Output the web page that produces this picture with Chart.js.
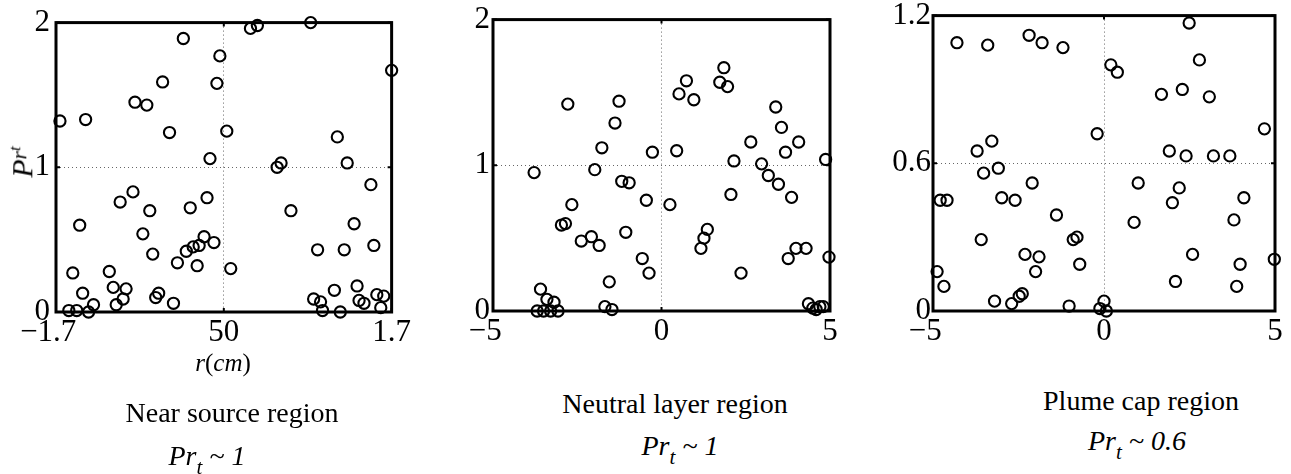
<!DOCTYPE html>
<html>
<head>
<meta charset="utf-8">
<script src="https://cdn.jsdelivr.net/npm/chart.js@4/dist/chart.umd.min.js"></script>
<style>
  html, body { margin: 0; padding: 0; background: #fff; }
  body { width: 1291px; height: 474px; position: relative; overflow: hidden;
         font-family: "Liberation Serif", "Times New Roman", serif; color: #000; }
  .panel { position: absolute; }
  .txt { position: absolute; white-space: nowrap; transform: translateX(-50%); }
  .cap { font-size: 28px; line-height: 28px; }
  .pr  { font-size: 28px; line-height: 28px; font-style: italic; }
  .pr sub { font-size: 0.75em; vertical-align: -0.45em; line-height: 0; }
</style>
</head>
<body>

<div class="panel" id="p1"><canvas id="c1"></canvas></div>
<div class="panel" id="p2"><canvas id="c2"></canvas></div>
<div class="panel" id="p3"><canvas id="c3"></canvas></div>

<!-- y label, first panel -->
<div style="position:absolute; left:19px; top:162px; transform:translate(-50%,-50%) rotate(-90deg); font-size:30px; line-height:30px; font-style:italic; white-space:nowrap;">P<span style="font-size:0.72em; vertical-align:0.3em;">r</span><span style="font-size:0.55em; vertical-align:0.75em;">t</span></div>

<div class="txt" style="left:223px; top:350px; font-size:25px; line-height:25px;"><i>r</i>(<i>cm</i>)</div>

<div class="txt cap" style="left:232px; top:399px;">Near source region</div>
<div class="txt cap" style="left:675px; top:390px;">Neutral layer region</div>
<div class="txt cap" style="left:1141px; top:387px;">Plume cap region</div>

<div class="txt pr" style="left:207px; top:442px;">Pr<sub>t</sub> ~ 1</div>
<div class="txt pr" style="left:680px; top:432px;">Pr<sub>t</sub> ~ 1</div>
<div class="txt pr" style="left:1137px; top:427px;">Pr<sub>t</sub> ~ 0.6</div>

<script>
// ---- data ----
// near source region, r scaled to -1.7 .. 1.7 (middle tick labelled 50)
const nearX = [-1.66, -1.40, -0.41, -0.04, -0.62, -0.07, -0.90, -0.78, -0.55, 0.03,
               -0.14, 0.27, 0.34, -0.92, -1.05, -0.75, -0.34, -0.17, -1.46, -0.82,
               -0.72, -0.38, -0.31, -0.25, -0.20, -0.10, -0.47, -0.27, 0.07, -1.53,
               -1.16, -1.43, -1.12, -0.99, -1.02, -1.09, -0.66, -0.69, -0.51, -1.32,
               -1.37, -1.57, -1.49,
               0.88, 1.70, 1.15, 1.25, 0.54, 0.58, 1.49, 0.68, 1.32, 0.95,
               1.22, 1.52, 1.12, 1.35, 0.91, 0.98, 1.37, 1.42, 1.55, 1.62,
               1.59, 1.00, 1.18];
const nearY = [1.32, 1.33, 1.89, 1.77, 1.59, 1.58, 1.45, 1.43, 1.24, 1.25,
               1.06, 1.96, 1.98, 0.83, 0.76, 0.70, 0.72, 0.79, 0.60, 0.54,
               0.40, 0.42, 0.45, 0.46, 0.52, 0.48, 0.34, 0.32, 0.30, 0.27,
               0.28, 0.13, 0.17, 0.16, 0.09, 0.05, 0.13, 0.10, 0.06, 0.05,
               0.00, 0.01, 0.01,
               2.00, 1.67, 1.21, 1.03, 1.00, 1.03, 0.88, 0.70, 0.61, 0.43,
               0.43, 0.46, 0.15, 0.18, 0.09, 0.07, 0.08, 0.06, 0.12, 0.11,
               0.03, 0.01, 0.00];

// neutral layer region
const neutralX = [-3.78, -2.78, -2.66, -2.97, -2.85, -2.38, -2.08, -1.85, -1.98, -1.77,
                  -1.26, -1.38, -1.18, -0.96, -1.06, -0.45, -0.27, -0.57, -0.37, -1.55,
                  -1.68, -1.47, -3.59, -3.40, -3.19, -3.69, -3.50, -3.29, -3.07,
                  0.25, 0.45, 0.52, 0.74, 0.96, 1.73, 1.85, 1.96, 2.15, 2.06,
                  1.17, 1.26, 1.36, 2.36, 2.65, 2.97, 3.17, 3.39, 3.56, 3.47,
                  3.68, 4.07, 3.86, 3.99, 4.29, 3.76, 4.87, 4.97,
                  4.36, 4.49, 4.59, 4.70, 4.80];
const neutralY = [0.95, 1.42, 0.73, 0.59, 0.60, 0.48, 0.51, 0.45, 0.97, 1.12,
                  1.44, 1.29, 0.89, 0.88, 0.54, 0.76, 1.09, 0.36, 0.26, 0.20,
                  0.03, 0.01, 0.15, 0.08, 0.06, 0.00, 0.00, 0.00, 0.00,
                  0.73, 1.10, 1.49, 1.58, 1.45, 1.57, 1.67, 1.54, 1.03, 0.80,
                  0.43, 0.50, 0.56, 0.26, 1.16, 1.01, 0.93, 1.40, 1.26, 0.87,
                  1.09, 1.16, 0.78, 0.43, 0.43, 0.36, 1.04, 0.37,
                  0.05, 0.02, 0.01, 0.03, 0.03];

// plume cap region
const plumeX = [-4.30, -3.40, -2.19, -1.81, -1.20, 2.49, 2.79, 0.20, 0.39, 1.68,
                2.29, 3.08, 4.69, -0.20, -3.28, -3.71, -3.52, -3.09, 1.91, 2.40,
                3.20, 3.68, -2.10, 1.00, 2.20, 2.00, 4.09, -4.79, -4.59, -2.99,
                -2.60, -1.39, 0.88, 3.80, -3.59, -0.90, -0.79, -2.31, -1.90, 2.59,
                4.98, -4.88, -2.00, -0.71, 3.98, -4.68, 2.09, 3.88, -2.48, -2.39,
                -3.20, -2.70, -1.02, 0.00, -0.12, 0.07];
const plumeY = [1.09, 1.08, 1.12, 1.09, 1.07, 1.17, 1.02, 1.00, 0.97, 0.88,
                0.90, 0.87, 0.74, 0.72, 0.69, 0.65, 0.56, 0.58, 0.65, 0.63,
                0.63, 0.63, 0.52, 0.52, 0.50, 0.44, 0.46, 0.45, 0.45, 0.46,
                0.45, 0.39, 0.36, 0.37, 0.29, 0.29, 0.30, 0.23, 0.22, 0.23,
                0.21, 0.16, 0.16, 0.19, 0.19, 0.10, 0.12, 0.10, 0.06, 0.07,
                0.04, 0.03, 0.02, 0.04, 0.01, 0.00];

// ticks (trailing spaces nudge the negative labels left, as in the original)
const xTicks1 = [-1.7, 0, 1.7];
const xTickLabels1 = ['\u22121.7  ', '50', '1.7'];
const yTicks1 = [0, 1, 2];
const xTicks2 = [-5, 0, 5];
const xTickLabels2 = ['\u22125  ', '0', '5'];
const yTicks2 = [0, 1, 2];
const xTicks3 = [-5, 0, 5];
const xTickLabels3 = ['\u22125  ', '0', '5'];
const yTicks3 = [0, 0.6, 1.2];
const yTickLabels3 = ['0', '0.6', '1.2'];

const FONT = { family: '"Liberation Serif", "Times New Roman", serif', size: 31 };

// box round the plot area, with small inward ticks
const boxPlugin = {
  id: 'box',
  afterDatasetsDraw(chart) {
    const a = chart.chartArea, ctx = chart.ctx;
    const sx = chart.scales.x, sy = chart.scales.y;
    ctx.save();
    ctx.strokeStyle = '#000';
    ctx.lineWidth = 3;
    ctx.strokeRect(a.left, a.top, a.right - a.left, a.bottom - a.top);
    ctx.lineWidth = 2;
    ctx.beginPath();
    sx.ticks.forEach(t => {
      const px = sx.getPixelForValue(t.value);
      ctx.moveTo(px, a.bottom); ctx.lineTo(px, a.bottom - 4);
      ctx.moveTo(px, a.top); ctx.lineTo(px, a.top + 4);
    });
    sy.ticks.forEach(t => {
      const py = sy.getPixelForValue(t.value);
      ctx.moveTo(a.left, py); ctx.lineTo(a.left + 4, py);
      ctx.moveTo(a.right, py); ctx.lineTo(a.right - 4, py);
    });
    ctx.stroke();
    ctx.restore();
  }
};

function pairs(xs, ys) { return xs.map((x, i) => ({ x: x, y: ys[i] })); }

function makePanel(opt) {
  const yW = 60, padT = 20, padR = 16, xH = 44;
  const box = document.getElementById(opt.div);
  const w = yW + (opt.right - opt.left) + padR;
  const h = padT + (opt.bottom - opt.top) + xH;
  box.style.left = (opt.left - yW) + 'px';
  box.style.top = (opt.top - padT) + 'px';
  box.style.width = w + 'px';
  box.style.height = h + 'px';

  new Chart(document.getElementById(opt.canvas), {
    type: 'scatter',
    data: {
      datasets: [{
        data: pairs(opt.xs, opt.ys),
        pointStyle: 'circle',
        pointRadius: 5.6,
        pointBorderWidth: 2.1,
        pointBorderColor: '#000',
        pointBackgroundColor: 'rgba(0,0,0,0)',
        clip: false
      }]
    },
    options: {
      responsive: true,
      maintainAspectRatio: false,
      animation: false,
      events: [],
      layout: { padding: { top: padT, right: padR, left: 0, bottom: 0 } },
      plugins: { legend: { display: false }, tooltip: { enabled: false } },
      scales: {
        x: {
          type: 'linear',
          min: opt.xTicks[0], max: opt.xTicks[opt.xTicks.length - 1],
          afterBuildTicks: s => { s.ticks = opt.xTicks.map(v => ({ value: v })); },
          afterFit: s => { s.height = xH; },
          grid: { color: '#666', lineWidth: 1, drawTicks: false },
          border: { display: false, dash: [1, 3] },
          ticks: {
            color: '#000', font: FONT, padding: 2, maxRotation: 0, autoSkip: false,
            callback: (v, i) => opt.xLabels[i]
          }
        },
        y: {
          type: 'linear',
          min: opt.yTicks[0], max: opt.yTicks[opt.yTicks.length - 1],
          afterBuildTicks: s => { s.ticks = opt.yTicks.map(v => ({ value: v })); },
          afterFit: s => { s.width = yW; },
          grid: { color: '#666', lineWidth: 1, drawTicks: false },
          border: { display: false, dash: [1, 3] },
          ticks: {
            color: '#000', font: FONT, padding: opt.yPad, autoSkip: false,
            callback: (v, i) => opt.yLabels[i]
          }
        }
      }
    },
    plugins: [boxPlugin]
  });
}

makePanel({ div: 'p1', canvas: 'c1', left: 56, right: 397, top: 18, bottom: 312, yPad: 6,
  xs: nearX, ys: nearY, xTicks: xTicks1, xLabels: xTickLabels1,
  yTicks: yTicks1, yLabels: yTicks1.map(String) });

makePanel({ div: 'p2', canvas: 'c2', left: 493, right: 830, top: 18, bottom: 311, yPad: 3,
  xs: neutralX, ys: neutralY, xTicks: xTicks2, xLabels: xTickLabels2,
  yTicks: yTicks2, yLabels: yTicks2.map(String) });

makePanel({ div: 'p3', canvas: 'c3', left: 933, right: 1275, top: 15, bottom: 311, yPad: 2,
  xs: plumeX, ys: plumeY, xTicks: xTicks3, xLabels: xTickLabels3,
  yTicks: yTicks3, yLabels: yTickLabels3 });
</script>
</body>
</html>
